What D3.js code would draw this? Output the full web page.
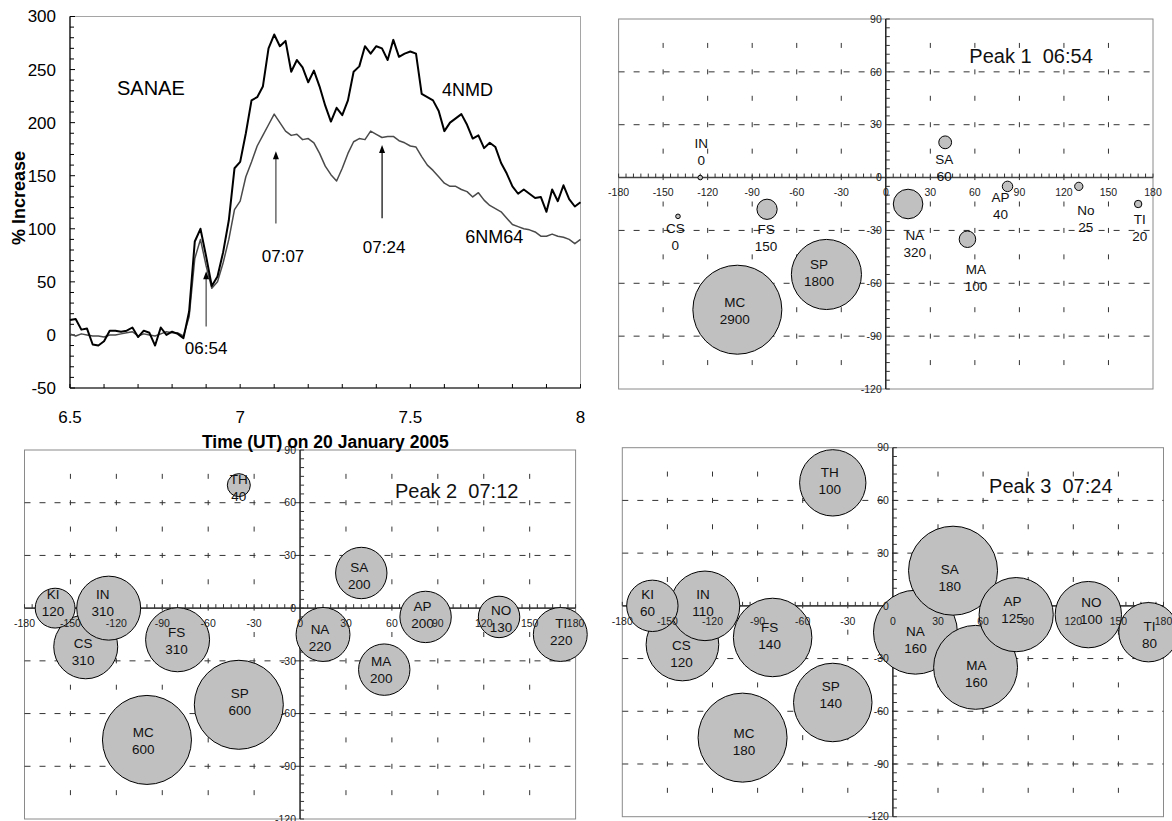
<!DOCTYPE html>
<html><head><meta charset="utf-8">
<script src="https://cdn.jsdelivr.net/npm/d3@7"></script>
<style>
body{margin:0;background:#fff}
svg{display:block}
text{font-family:Arial,"Liberation Sans",Helvetica,sans-serif}
</style>
</head><body>
<svg id="c" width="1172" height="821"></svg>
<script>
// ---------------- DATA ----------------
// Line chart: SANAE neutron monitors, 1-minute values starting 6.5 h UT
const startHour = 6.5, stepHours = 1 / 60;
const nmd4 = [14, 15, 5, 6, -9, -10, -6, 4, 4, 3, 4, 7, -2, 4, 2, -10, 7, 0, 3, 1, -3,
  22, 88, 100, 74, 46, 55, 78, 108, 157, 163, 190, 221, 224, 234, 270, 283, 272, 277, 248, 259,
  252, 238, 249, 234, 216, 201, 214, 207, 221, 248, 253,
  272, 265, 272, 270, 259, 278, 262, 265, 267, 265, 227, 224, 221, 211, 192, 200, 204, 208, 198,
  185, 188, 176, 181, 177, 162, 152, 140, 133, 137, 133, 129, 130, 116, 137, 126, 141, 128, 121, 125];
const nm64 = [1, -1, 1, 0, -1, -1, -2, 0, 0, 1, 2, 3, -1, 1, 0, -1, 1, 3, 2, 2, -1,
  17, 72, 90, 65, 44, 50, 68, 90, 118, 126, 149, 163, 178, 188, 198, 208, 200, 192, 188, 189,
  184, 185, 181, 171, 159, 151, 145, 157, 171, 182, 185,
  184, 192, 189, 186, 187, 187, 183, 181, 178, 177, 168, 160, 155, 149, 143, 140, 140, 137, 135,
  130, 134, 127, 122, 119, 116, 110, 104, 102, 100, 99, 97, 93, 93, 95, 93, 92, 90, 86, 90];
const lineXTicks = [6.5, 7, 7.5, 8];
const lineYTicks = [-50, 0, 50, 100, 150, 200, 250, 300];
const arrowLabels = ["06:54", "07:07", "07:24"];
const arrowTimes = [6.9, 7.105, 7.417];
const arrowTipValues = [60, 173, 179];
const arrowTailValues = [8, 105, 110];

// Bubble charts: station asymptotic directions (longitude, latitude)
const stations = ["CS", "IN", "KI", "FS", "MC", "SP", "TH", "NA", "SA", "MA", "AP", "NO", "TI"];
const stationLon = [-140, -125, -160, -80, -100, -40, -40, 15, 40, 55, 82, 130, 170];
const stationLat = [-22, 0, 0, -18, -75, -55, 70, -15, 20, -35, -5, -5, -15];
const peak1Names = ["CS", "IN", null, "FS", "MC", "SP", null, "NA", "SA", "MA", "AP", "No", "TI"];
const peak1Values = [0, 0, null, 150, 2900, 1800, null, 320, 60, 100, 40, 25, 20];
const peak2Values = [310, 310, 120, 310, 600, 600, 40, 220, 200, 200, 200, 130, 220];
const peak3Values = [120, 110, 60, 140, 180, 140, 100, 160, 180, 160, 125, 100, 80];
const peakTitles = ["Peak 1  06:54", "Peak 2  07:12", "Peak 3  07:24"];
const lonTicks = [-180, -150, -120, -90, -60, -30, 0, 30, 60, 90, 120, 150, 180];
const latTicks = [90, 60, 30, 0, -30, -60, -90, -120];

// ---------------- LAYOUT ----------------
const svg = d3.select("#c");
svg.append("rect").attr("width", 1172).attr("height", 821).attr("fill", "#fff");

// label block offsets (px) relative to bubble centre, per station
const labelOffsets = [
  {CS: [-2.6, 20.5], IN: [1, -25.5], FS: [-1, 28.5], MC: [-2.6, 0.8], SP: [-7.4, -2.2], NA: [6.7, 39.5],
   SA: [-1, 25.5], MA: [8.5, 38.5], AP: [-7, 19.5], NO: [7, 32.5], TI: [1.5, 23.5]},
  {KI: [-2, -5], IN: [-6, -5], CS: [-2.6, 5], FS: [-1, 1], MC: [-3.8, 1], SP: [1, -3], TH: [0, 3],
   SA: [-2, 3], NA: [-3, 3], AP: [-3, -2], MA: [-3, 0], NO: [2, 2], TI: [1, -3]},
  {KI: [-4.8, -3], IN: [-2, -3], CS: [-1, 9], FS: [-3, -2], MC: [1.5, 4], SP: [-2, -8], TH: [-3, -2],
   SA: [-3.3, 7], NA: [0, 8], AP: [-3.7, -5], MA: [0.7, 6], NO: [3, -4], TI: [1, 3]}
];

const panels = [
  {left: 618.6, right: 1153, top: 19, bottom: 389, values: peak1Values, names: peak1Names, title: peakTitles[0], titlePos: [56.3, 69]},
  {left: 24.5, right: 575.6, top: 450, bottom: 819, values: peak2Values, names: stations, title: peakTitles[1], titlePos: [62, 66.8]},
  {left: 622.3, right: 1163.5, top: 447.7, bottom: 816.7, values: peak3Values, names: stations, title: peakTitles[2], titlePos: [64, 68.2]}
];

panels.forEach((cfg, pi) => {
  const g = svg.append("g");
  const x = d3.scaleLinear().domain([-180, 180]).range([cfg.left, cfg.right]);
  const y = d3.scaleLinear().domain([-120, 90]).range([cfg.bottom, cfg.top]);
  const r = d3.scaleSqrt().domain([0, d3.max(cfg.values)]).range([0, 44.5]);

  g.append("rect").attr("x", cfg.left).attr("y", cfg.top)
    .attr("width", cfg.right - cfg.left).attr("height", cfg.bottom - cfg.top)
    .attr("fill", "none").attr("stroke", "#8a8a8a").attr("stroke-width", 1);

  // horizontal dashed gridlines
  const hg = latTicks.filter(d => d !== 0 && d !== 90 && d !== -120);
  g.selectAll(".hg").data(hg).join("line")
    .attr("x1", cfg.left).attr("x2", cfg.right)
    .attr("y1", d => y(d)).attr("y2", d => y(d))
    .attr("stroke", "#333").attr("stroke-width", 1).attr("stroke-dasharray", "6,9");
  // vertical gridlines: short dashes every 15 deg of latitude
  const vg = lonTicks.filter(d => d !== 0 && d !== -180 && d !== 180);
  const marks = d3.range(-105, 90, 15);
  vg.forEach(lon => {
    g.selectAll(null).data(marks).join("line")
      .attr("x1", x(lon)).attr("x2", x(lon))
      .attr("y1", d => y(d) - 2.5).attr("y2", d => y(d) + 2.5)
      .attr("stroke", "#333").attr("stroke-width", 1);
  });

  // axes
  g.append("line").attr("x1", cfg.left).attr("x2", cfg.right).attr("y1", y(0)).attr("y2", y(0))
    .attr("stroke", "#444").attr("stroke-width", 1.6);
  g.append("line").attr("x1", x(0)).attr("x2", x(0)).attr("y1", cfg.top).attr("y2", cfg.bottom)
    .attr("stroke", "#111").attr("stroke-width", 1.4);
  g.selectAll(".xm").data(d3.range(-180, 181, 5)).join("line")
    .attr("x1", d => x(d)).attr("x2", d => x(d)).attr("y1", y(0)).attr("y2", y(0) - 4)
    .attr("stroke", "#333").attr("stroke-width", 1);
  g.selectAll(".ym").data(d3.range(-120, 91, 5)).join("line")
    .attr("x1", x(0)).attr("x2", x(0) + 4).attr("y1", d => y(d)).attr("y2", d => y(d))
    .attr("stroke", "#333").attr("stroke-width", 1);

  // bubbles
  const pts = stations.map((s, i) => ({s, name: cfg.names[i], lon: stationLon[i], lat: stationLat[i], v: cfg.values[i]}))
    .filter(d => d.v !== null);
  g.selectAll(".b").data(pts).join("circle")
    .attr("cx", d => x(d.lon)).attr("cy", d => y(d.lat))
    .attr("r", d => Math.max(2.3, r(d.v)))
    .attr("fill", "#c0c0c0").attr("stroke", "#000").attr("stroke-width", 1);

  // bubble labels
  const offs = labelOffsets[pi];
  pts.forEach(d => {
    const o = offs[d.s] || [0, 0];
    const cx = x(d.lon) + o[0], cy = y(d.lat) + o[1];
    const t = g.append("text").attr("text-anchor", "middle").attr("font-size", 13.5).attr("fill", "#111");
    t.append("tspan").attr("x", cx).attr("y", cy - 8.5).attr("dy", "0.35em").text(d.name);
    t.append("tspan").attr("x", cx).attr("y", cy + 8.5).attr("dy", "0.35em").text(d.v);
  });

  // tick labels (drawn on top)
  g.selectAll(".xl").data(lonTicks).join("text")
    .attr("x", d => x(d)).attr("y", y(0) + 15).attr("dy", "0.35em")
    .attr("text-anchor", "middle").attr("font-size", 10.5).attr("fill", "#222")
    .text(d => d);
  g.selectAll(".yl").data(latTicks).join("text")
    .attr("x", x(0) - 4).attr("y", d => y(d)).attr("dy", "0.35em")
    .attr("text-anchor", "end").attr("font-size", 10.5).attr("fill", "#222")
    .text(d => d);

  g.append("text").attr("x", x(cfg.titlePos[0])).attr("y", y(cfg.titlePos[1])).attr("dy", "0.35em")
    .attr("font-size", 20).attr("fill", "#111").attr("xml:space", "preserve").style("white-space", "pre")
    .text(cfg.title);
});

// ---------------- LINE CHART ----------------
const L = {left: 70, right: 580.5, top: 16.5, bottom: 388};
const lx = d3.scaleLinear().domain([6.5, 8]).range([L.left, L.right]);
const ly = d3.scaleLinear().domain([-50, 300]).range([L.bottom, L.top]);
const times = nmd4.map((_, i) => startHour + i * stepHours);
const lg = svg.append("g");

lg.append("rect").attr("x", L.left).attr("y", L.top).attr("width", L.right - L.left).attr("height", L.bottom - L.top)
  .attr("fill", "none").attr("stroke", "#a5a5a5").attr("stroke-width", 1);
lg.append("line").attr("x1", L.left).attr("x2", L.left).attr("y1", L.top).attr("y2", L.bottom).attr("stroke", "#000").attr("stroke-width", 1.2);
lg.append("line").attr("x1", L.left).attr("x2", L.right).attr("y1", L.bottom).attr("y2", L.bottom).attr("stroke", "#000").attr("stroke-width", 1.2);
// y ticks every 10 (inside)
lg.selectAll(".yt").data(d3.range(-50, 301, 10)).join("line")
  .attr("x1", L.left).attr("x2", d => L.left + (d % 50 === 0 ? 5 : 4))
  .attr("y1", d => ly(d)).attr("y2", d => ly(d)).attr("stroke", "#000").attr("stroke-width", 1);
// x ticks every 0.1 (inside)
lg.selectAll(".xt").data(d3.range(0, 16)).join("line")
  .attr("x1", d => lx(6.5 + d / 10)).attr("x2", d => lx(6.5 + d / 10))
  .attr("y1", L.bottom).attr("y2", L.bottom - 4).attr("stroke", "#000").attr("stroke-width", 1);

lg.selectAll(".ytl").data(lineYTicks).join("text")
  .attr("x", L.left - 14).attr("y", d => ly(d)).attr("dy", "0.35em").attr("text-anchor", "end")
  .attr("font-size", 17).attr("fill", "#000").text(d => d);
lg.selectAll(".xtl").data(lineXTicks).join("text")
  .attr("x", d => lx(d)).attr("y", 416.7).attr("dy", "0.35em").attr("text-anchor", "middle")
  .attr("font-size", 17).attr("fill", "#000").text(d => d);

lg.append("text").attr("x", (L.left + L.right) / 2).attr("y", 441.7).attr("dy", "0.35em")
  .attr("text-anchor", "middle").attr("font-size", 17.5).attr("font-weight", "bold")
  .text("Time (UT) on 20 January 2005");
lg.append("text").attr("transform", "translate(18.5,198) rotate(-90)").attr("dy", "0.35em")
  .attr("text-anchor", "middle").attr("font-size", 18).attr("font-weight", "bold").text("% Increase");

const line = d3.line().x((d, i) => lx(times[i])).y(d => ly(d));
lg.append("path").datum(nm64).attr("d", line).attr("fill", "none").attr("stroke", "#4a4a4a").attr("stroke-width", 1.5).attr("stroke-linejoin", "round");
lg.append("path").datum(nmd4).attr("d", line).attr("fill", "none").attr("stroke", "#000").attr("stroke-width", 2).attr("stroke-linejoin", "round");

// annotations
lg.append("text").attr("x", lx(6.638)).attr("y", ly(232.7)).attr("dy", "0.35em").attr("font-size", 20).text("SANAE");
lg.append("text").attr("x", lx(7.593)).attr("y", ly(231)).attr("dy", "0.35em").attr("font-size", 18).text("4NMD");
lg.append("text").attr("x", lx(7.661)).attr("y", ly(92.5)).attr("dy", "0.35em").attr("font-size", 18).text("6NM64");

const arrowColors = ["#444", "#444", "#000"];
const labelPos = [[6.9, -12], [7.126, 74], [7.423, 83]];
arrowTimes.forEach((t, i) => {
  const ax = lx(t), y1 = ly(arrowTailValues[i]), y2 = ly(arrowTipValues[i]);
  lg.append("line").attr("x1", ax).attr("x2", ax).attr("y1", y1).attr("y2", y2 + 6)
    .attr("stroke", arrowColors[i]).attr("stroke-width", 1.2);
  lg.append("path").attr("d", `M${ax},${y2} L${ax - 3},${y2 + 8} L${ax + 3},${y2 + 8} Z`).attr("fill", "#000");
  lg.append("text").attr("x", lx(labelPos[i][0])).attr("y", ly(labelPos[i][1])).attr("dy", "0.35em")
    .attr("text-anchor", "middle").attr("font-size", 17).text(arrowLabels[i]);
});
</script>
</body></html>
